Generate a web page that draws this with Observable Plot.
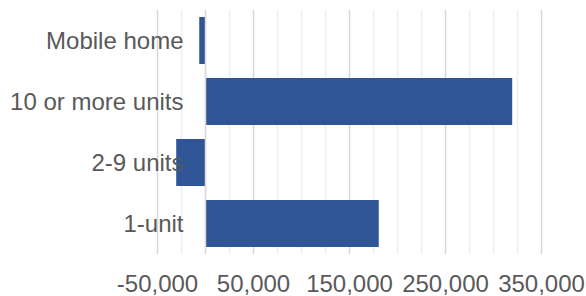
<!DOCTYPE html>
<html>
<head>
<meta charset="utf-8">
<script src="https://cdn.jsdelivr.net/npm/d3@7"></script>
<script src="https://cdn.jsdelivr.net/npm/@observablehq/plot@0.6"></script>
<style>
  html, body { margin: 0; padding: 0; background: #fff; }
  #chart svg { display: block; }
</style>
</head>
<body>
<div id="chart"></div>
<script>
const categories = ["Mobile home", "10 or more units", "2-9 units", "1-unit"];
const values = [-6000, 320000, -30000, 181000];
const majorTicks = [-50000, 50000, 150000, 250000, 350000];
const minorTicks = [-25000, 0, 25000, 75000, 100000, 125000, 175000, 200000, 225000, 275000, 300000, 325000];

const data = categories.map((c, i) => ({category: c, value: values[i]}));

const chart = Plot.plot({
  width: 586,
  height: 296,
  marginTop: 10,
  marginBottom: 42,
  marginLeft: 157,
  marginRight: 45,
  style: {fontFamily: "'Liberation Sans', Arial, sans-serif", fontSize: "24px", color: "#595959", background: "#fff"},
  x: {domain: [-50000, 350000], label: null},
  y: {domain: categories, paddingInner: 0.228, paddingOuter: 0.095, label: null},
  marks: [
    Plot.ruleX(minorTicks, {stroke: "#efefef", strokeWidth: 1.5}),
    Plot.ruleX(majorTicks, {stroke: "#d9d9d9", strokeWidth: 1.5}),
    Plot.barX(data, {x: "value", y: "category", fill: "#2F5597"}),
    Plot.ruleX([0], {stroke: "#d9d9d9", strokeWidth: 1.5}),
    Plot.axisX({ticks: majorTicks, tickSize: 0, tickPadding: 20, label: null, tickFormat: d => d.toLocaleString("en-US"), fill: "#595959", fontSize: 24}),
    Plot.axisY({tickSize: 0, tickPadding: 0, dx: 26, label: null, fill: "#595959", fontSize: 24})
  ]
});
document.getElementById("chart").appendChild(chart);
</script>
</body>
</html>
